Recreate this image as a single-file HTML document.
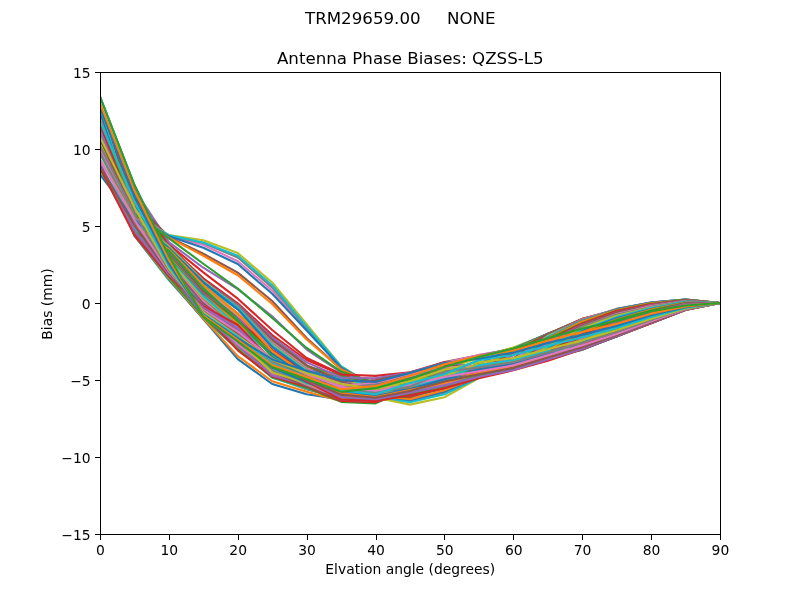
<!DOCTYPE html>
<html><head><meta charset="utf-8"><title>Antenna Phase Biases: QZSS-L5</title>
<style>
html,body{margin:0;padding:0;background:#fff;overflow:hidden}
svg{display:block}
text{font-family:'DejaVu Sans','Liberation Sans',sans-serif;fill:#000;white-space:pre}
.t10{font-size:13.889px}
.t12{font-size:16.667px}
.ln{fill:none;stroke-width:2.083;stroke-linejoin:round;stroke-linecap:square}
.ax{stroke:#000;stroke-width:1;fill:none;shape-rendering:crispEdges}
</style>
</head><body>
<svg width="800" height="600" viewBox="0 0 800 600">
<rect x="0" y="0" width="800" height="600" fill="#fff"/>
<defs><clipPath id="c"><rect x="100" y="72" width="620" height="462"/></clipPath></defs>
<g clip-path="url(#c)">
<polyline class="ln" stroke="#1f77b4" points="100.00,96.64 134.44,185.04 168.89,256.03 203.33,316.86 237.78,341.50 272.22,367.29 306.67,379.30 341.11,391.70 375.56,388.16 410.00,378.77 444.44,367.06 478.89,356.90 513.33,348.43 547.78,338.27 582.22,328.41 616.67,321.02 651.11,311.16 685.56,305.46 720.00,303.00"/>
<polyline class="ln" stroke="#ff7f0e" points="100.00,105.35 134.44,190.91 168.89,259.49 203.33,315.43 237.78,342.10 272.22,374.00 306.67,387.65 341.11,392.16 375.56,387.61 410.00,378.13 444.44,366.19 478.89,356.42 513.33,347.72 547.78,338.71 582.22,328.59 616.67,321.21 651.11,311.84 685.56,305.56 720.00,303.00"/>
<polyline class="ln" stroke="#2ca02c" points="100.00,107.91 134.44,194.03 168.89,264.25 203.33,316.51 237.78,343.60 272.22,375.38 306.67,387.73 341.11,393.75 375.56,386.27 410.00,376.53 444.44,366.42 478.89,356.52 513.33,348.37 547.78,337.35 582.22,327.45 616.67,320.13 651.11,310.42 685.56,305.46 720.00,303.00"/>
<polyline class="ln" stroke="#d62728" points="100.00,116.66 134.44,198.28 168.89,267.80 203.33,316.24 237.78,342.63 272.22,374.31 306.67,386.08 341.11,394.64 375.56,383.22 410.00,375.35 444.44,364.67 478.89,355.70 513.33,349.05 547.78,337.62 582.22,327.00 616.67,320.07 651.11,309.99 685.56,304.99 720.00,303.00"/>
<polyline class="ln" stroke="#9467bd" points="100.00,119.06 134.44,206.19 168.89,270.47 203.33,316.04 237.78,346.40 272.22,374.44 306.67,387.14 341.11,395.58 375.56,380.80 410.00,373.61 444.44,363.01 478.89,355.81 513.33,350.37 547.78,336.87 582.22,326.97 616.67,319.46 651.11,310.37 685.56,304.70 720.00,303.00"/>
<polyline class="ln" stroke="#8c564b" points="100.00,124.05 134.44,213.87 168.89,272.20 203.33,318.04 237.78,343.45 272.22,374.35 306.67,388.78 341.11,395.95 375.56,378.76 410.00,373.22 444.44,361.98 478.89,355.28 513.33,349.31 547.78,335.35 582.22,325.69 616.67,318.55 651.11,309.57 685.56,304.46 720.00,303.00"/>
<polyline class="ln" stroke="#e377c2" points="100.00,127.44 134.44,222.92 168.89,274.36 203.33,317.36 237.78,347.53 272.22,374.44 306.67,388.48 341.11,396.48 375.56,378.46 410.00,375.02 444.44,362.74 478.89,354.90 513.33,348.93 547.78,334.79 582.22,325.18 616.67,317.59 651.11,308.91 685.56,303.67 720.00,303.00"/>
<polyline class="ln" stroke="#7f7f7f" points="100.00,130.33 134.44,232.16 168.89,278.36 203.33,318.55 237.78,346.56 272.22,377.06 306.67,389.42 341.11,398.14 375.56,383.41 410.00,375.87 444.44,364.61 478.89,355.89 513.33,348.48 547.78,334.13 582.22,323.94 616.67,315.86 651.11,307.99 685.56,303.62 720.00,303.00"/>
<polyline class="ln" stroke="#bcbd22" points="100.00,133.55 134.44,235.55 168.89,280.36 203.33,317.77 237.78,349.13 272.22,377.13 306.67,388.41 341.11,397.81 375.56,388.96 410.00,378.81 444.44,369.15 478.89,358.05 513.33,347.52 547.78,333.97 582.22,323.54 616.67,314.47 651.11,307.72 685.56,302.93 720.00,303.00"/>
<polyline class="ln" stroke="#17becf" points="100.00,134.41 134.44,235.86 168.89,279.90 203.33,318.40 237.78,349.20 272.22,377.69 306.67,388.47 341.11,398.62 375.56,393.09 410.00,381.01 444.44,372.57 478.89,360.51 513.33,348.74 547.78,333.80 582.22,322.34 616.67,314.23 651.11,306.54 685.56,302.36 720.00,303.00"/>
<polyline class="ln" stroke="#1f77b4" points="100.00,135.14 134.44,235.24 168.89,278.98 203.33,319.02 237.78,359.06 272.22,384.00 306.67,394.32 341.11,399.37 375.56,398.48 410.00,385.30 444.44,376.81 478.89,363.53 513.33,349.04 547.78,333.68 582.22,320.68 616.67,312.19 651.11,305.51 685.56,301.96 720.00,303.00"/>
<polyline class="ln" stroke="#ff7f0e" points="100.00,137.24 134.44,234.93 168.89,278.05 203.33,318.40 237.78,356.13 272.22,381.23 306.67,391.70 341.11,400.94 375.56,400.93 410.00,386.74 444.44,379.26 478.89,367.15 513.33,349.99 547.78,334.31 582.22,319.56 616.67,311.74 651.11,304.62 685.56,301.85 720.00,303.00"/>
<polyline class="ln" stroke="#2ca02c" points="100.00,136.87 134.44,234.32 168.89,277.13 203.33,316.86 237.78,349.20 272.22,377.23 306.67,387.70 341.11,401.87 375.56,403.41 410.00,387.70 444.44,380.00 478.89,370.35 513.33,351.41 547.78,334.11 582.22,319.28 616.67,310.52 651.11,304.16 685.56,300.67 720.00,303.00"/>
<polyline class="ln" stroke="#d62728" points="100.00,135.47 134.44,231.15 168.89,274.48 203.33,313.80 237.78,350.33 272.22,376.50 306.67,386.78 341.11,400.94 375.56,402.33 410.00,390.79 444.44,383.10 478.89,370.38 513.33,352.87 547.78,334.19 582.22,318.83 616.67,310.11 651.11,303.66 685.56,300.48 720.00,303.00"/>
<polyline class="ln" stroke="#9467bd" points="100.00,143.31 134.44,230.62 168.89,272.20 203.33,315.69 237.78,345.23 272.22,375.48 306.67,385.02 341.11,399.75 375.56,400.79 410.00,393.04 444.44,384.83 478.89,372.30 513.33,355.31 547.78,334.63 582.22,319.32 616.67,309.48 651.11,303.28 685.56,300.29 720.00,303.00"/>
<polyline class="ln" stroke="#8c564b" points="100.00,137.79 134.44,230.01 168.89,271.25 203.33,312.93 237.78,343.60 272.22,371.15 306.67,386.47 341.11,399.56 375.56,401.08 410.00,396.47 444.44,389.09 478.89,373.60 513.33,358.28 547.78,333.94 582.22,318.96 616.67,309.52 651.11,303.44 685.56,299.95 720.00,303.00"/>
<polyline class="ln" stroke="#e377c2" points="100.00,145.03 134.44,230.73 168.89,270.33 203.33,311.63 237.78,344.26 272.22,370.10 306.67,384.64 341.11,398.02 375.56,399.97 410.00,398.48 444.44,390.78 478.89,376.28 513.33,360.08 547.78,335.86 582.22,319.56 616.67,309.01 651.11,302.29 685.56,299.59 720.00,303.00"/>
<polyline class="ln" stroke="#7f7f7f" points="100.00,143.14 134.44,229.65 168.89,271.77 203.33,311.18 237.78,341.17 272.22,370.41 306.67,383.50 341.11,396.84 375.56,399.01 410.00,401.38 444.44,392.80 478.89,376.95 513.33,363.55 547.78,335.65 582.22,320.03 616.67,308.90 651.11,302.85 685.56,299.49 720.00,303.00"/>
<polyline class="ln" stroke="#bcbd22" points="100.00,144.65 134.44,225.20 168.89,266.95 203.33,311.26 237.78,340.39 272.22,372.38 306.67,383.17 341.11,396.58 375.56,397.36 410.00,404.64 444.44,397.25 478.89,378.15 513.33,364.74 547.78,336.05 582.22,321.10 616.67,309.65 651.11,303.03 685.56,299.46 720.00,303.00"/>
<polyline class="ln" stroke="#17becf" points="100.00,144.84 134.44,227.36 168.89,267.65 203.33,308.14 237.78,339.57 272.22,367.28 306.67,383.11 341.11,394.78 375.56,395.96 410.00,402.33 444.44,394.32 478.89,377.69 513.33,367.29 547.78,336.64 582.22,320.89 616.67,309.37 651.11,302.64 685.56,299.65 720.00,303.00"/>
<polyline class="ln" stroke="#1f77b4" points="100.00,149.00 134.44,225.11 168.89,268.46 203.33,307.11 237.78,339.29 272.22,367.70 306.67,382.23 341.11,394.54 375.56,395.40 410.00,400.02 444.44,391.55 478.89,377.35 513.33,369.28 547.78,337.88 582.22,321.23 616.67,309.39 651.11,302.57 685.56,299.44 720.00,303.00"/>
<polyline class="ln" stroke="#ff7f0e" points="100.00,151.09 134.44,224.45 168.89,264.62 203.33,304.64 237.78,337.44 272.22,364.87 306.67,380.60 341.11,392.75 375.56,395.16 410.00,399.20 444.44,390.24 478.89,376.93 513.33,369.22 547.78,338.19 582.22,321.46 616.67,309.98 651.11,303.11 685.56,299.72 720.00,303.00"/>
<polyline class="ln" stroke="#2ca02c" points="100.00,150.33 134.44,223.64 168.89,263.18 203.33,304.83 237.78,337.09 272.22,364.05 306.67,381.06 341.11,393.94 375.56,395.55 410.00,397.12 444.44,387.05 478.89,376.53 513.33,369.22 547.78,339.00 582.22,323.26 616.67,310.81 651.11,303.84 685.56,299.77 720.00,303.00"/>
<polyline class="ln" stroke="#d62728" points="100.00,150.57 134.44,221.52 168.89,262.18 203.33,301.62 237.78,334.04 272.22,360.42 306.67,379.28 341.11,392.97 375.56,394.20 410.00,396.77 444.44,386.03 478.89,375.89 513.33,368.60 547.78,340.46 582.22,323.72 616.67,311.04 651.11,304.17 685.56,300.05 720.00,303.00"/>
<polyline class="ln" stroke="#9467bd" points="100.00,150.99 134.44,222.74 168.89,263.16 203.33,303.96 237.78,332.86 272.22,359.08 306.67,379.78 341.11,391.24 375.56,394.81 410.00,395.40 444.44,384.62 478.89,375.38 513.33,369.28 547.78,341.67 582.22,324.90 616.67,312.42 651.11,305.02 685.56,300.35 720.00,303.00"/>
<polyline class="ln" stroke="#8c564b" points="100.00,149.44 134.44,220.49 168.89,261.80 203.33,302.64 237.78,330.92 272.22,360.74 306.67,377.68 341.11,390.02 375.56,393.01 410.00,395.40 444.44,385.52 478.89,374.88 513.33,368.18 547.78,343.50 582.22,325.47 616.67,312.45 651.11,305.63 685.56,300.20 720.00,303.00"/>
<polyline class="ln" stroke="#e377c2" points="100.00,152.84 134.44,218.54 168.89,260.33 203.33,300.68 237.78,328.49 272.22,360.51 306.67,376.24 341.11,389.99 375.56,392.56 410.00,394.79 444.44,383.50 478.89,374.74 513.33,368.83 547.78,343.63 582.22,326.74 616.67,314.03 651.11,305.98 685.56,300.92 720.00,303.00"/>
<polyline class="ln" stroke="#7f7f7f" points="100.00,149.40 134.44,219.54 168.89,258.46 203.33,298.30 237.78,329.13 272.22,359.10 306.67,377.45 341.11,388.44 375.56,391.95 410.00,394.05 444.44,382.14 478.89,375.67 513.33,368.74 547.78,345.14 582.22,326.71 616.67,314.53 651.11,306.90 685.56,301.00 720.00,303.00"/>
<polyline class="ln" stroke="#bcbd22" points="100.00,149.73 134.44,219.00 168.89,259.59 203.33,297.43 237.78,326.17 272.22,353.99 306.67,374.59 341.11,388.17 375.56,391.47 410.00,392.29 444.44,381.62 478.89,374.25 513.33,367.68 547.78,346.31 582.22,328.28 616.67,315.73 651.11,307.63 685.56,301.69 720.00,303.00"/>
<polyline class="ln" stroke="#17becf" points="100.00,153.70 134.44,219.95 168.89,257.05 203.33,296.15 237.78,325.66 272.22,355.32 306.67,376.70 341.11,387.41 375.56,389.22 410.00,392.14 444.44,379.91 478.89,373.67 513.33,367.68 547.78,347.81 582.22,329.76 616.67,317.12 651.11,307.90 685.56,301.61 720.00,303.00"/>
<polyline class="ln" stroke="#1f77b4" points="100.00,152.08 134.44,216.76 168.89,255.73 203.33,293.70 237.78,323.06 272.22,353.74 306.67,375.62 341.11,385.81 375.56,389.38 410.00,389.92 444.44,378.43 478.89,373.33 513.33,367.68 547.78,349.34 582.22,331.09 616.67,318.22 651.11,309.01 685.56,302.24 720.00,303.00"/>
<polyline class="ln" stroke="#ff7f0e" points="100.00,144.42 134.44,215.16 168.89,255.30 203.33,292.85 237.78,323.85 272.22,350.85 306.67,375.00 341.11,384.07 375.56,388.08 410.00,387.46 444.44,377.49 478.89,372.13 513.33,367.58 547.78,350.04 582.22,332.34 616.67,319.54 651.11,309.58 685.56,302.50 720.00,303.00"/>
<polyline class="ln" stroke="#2ca02c" points="100.00,148.73 134.44,215.37 168.89,254.18 203.33,292.52 237.78,320.96 272.22,350.94 306.67,372.67 341.11,383.43 375.56,388.20 410.00,385.93 444.44,374.88 478.89,371.57 513.33,367.64 547.78,351.37 582.22,334.07 616.67,320.01 651.11,310.40 685.56,302.95 720.00,303.00"/>
<polyline class="ln" stroke="#d62728" points="100.00,147.18 134.44,214.14 168.89,252.55 203.33,291.95 237.78,319.17 272.22,349.76 306.67,372.84 341.11,383.74 375.56,386.98 410.00,385.25 444.44,374.80 478.89,372.14 513.33,368.11 547.78,352.16 582.22,334.38 616.67,321.72 651.11,311.73 685.56,303.57 720.00,303.00"/>
<polyline class="ln" stroke="#9467bd" points="100.00,148.99 134.44,211.60 168.89,252.14 203.33,292.02 237.78,317.92 272.22,346.60 306.67,371.13 341.11,382.69 375.56,386.36 410.00,384.50 444.44,374.56 478.89,370.67 513.33,368.45 547.78,353.10 582.22,336.99 616.67,322.02 651.11,312.51 685.56,303.83 720.00,303.00"/>
<polyline class="ln" stroke="#8c564b" points="100.00,143.55 134.44,210.27 168.89,250.82 203.33,291.06 237.78,316.27 272.22,345.85 306.67,370.74 341.11,381.04 375.56,387.70 410.00,384.62 444.44,373.84 478.89,370.52 513.33,367.34 547.78,355.48 582.22,336.86 616.67,323.75 651.11,313.92 685.56,304.63 720.00,303.00"/>
<polyline class="ln" stroke="#e377c2" points="100.00,142.48 134.44,209.12 168.89,250.14 203.33,287.95 237.78,315.39 272.22,347.26 306.67,370.08 341.11,380.05 375.56,387.81 410.00,385.66 444.44,374.60 478.89,369.35 513.33,368.49 547.78,355.82 582.22,339.23 616.67,324.38 651.11,314.29 685.56,305.06 720.00,303.00"/>
<polyline class="ln" stroke="#7f7f7f" points="100.00,141.50 134.44,206.54 168.89,250.22 203.33,285.75 237.78,313.72 272.22,343.45 306.67,369.60 341.11,379.77 375.56,386.49 410.00,383.85 444.44,373.93 478.89,369.68 513.33,368.40 547.78,356.18 582.22,339.94 616.67,325.62 651.11,315.44 685.56,305.32 720.00,303.00"/>
<polyline class="ln" stroke="#bcbd22" points="100.00,142.26 134.44,204.52 168.89,248.78 203.33,285.72 237.78,314.44 272.22,341.09 306.67,369.76 341.11,379.22 375.56,386.17 410.00,384.22 444.44,373.86 478.89,369.99 513.33,368.58 547.78,356.94 582.22,340.97 616.67,326.73 651.11,315.95 685.56,305.81 720.00,303.00"/>
<polyline class="ln" stroke="#17becf" points="100.00,134.53 134.44,204.97 168.89,250.24 203.33,285.44 237.78,309.36 272.22,342.39 306.67,368.63 341.11,377.78 375.56,386.49 410.00,382.18 444.44,371.79 478.89,369.66 513.33,368.17 547.78,358.34 582.22,342.69 616.67,327.86 651.11,316.61 685.56,306.36 720.00,303.00"/>
<polyline class="ln" stroke="#1f77b4" points="100.00,139.40 134.44,204.98 168.89,248.34 203.33,282.27 237.78,308.81 272.22,338.85 306.67,368.57 341.11,377.06 375.56,384.92 410.00,382.92 444.44,372.81 478.89,369.22 513.33,368.51 547.78,358.42 582.22,342.98 616.67,328.86 651.11,317.44 685.56,306.71 720.00,303.00"/>
<polyline class="ln" stroke="#ff7f0e" points="100.00,135.59 134.44,203.14 168.89,243.71 203.33,281.60 237.78,308.27 272.22,338.48 306.67,366.95 341.11,376.43 375.56,384.44 410.00,380.91 444.44,371.21 478.89,369.52 513.33,368.80 547.78,358.65 582.22,344.70 616.67,329.90 651.11,318.17 685.56,307.15 720.00,303.00"/>
<polyline class="ln" stroke="#2ca02c" points="100.00,133.60 134.44,201.36 168.89,245.25 203.33,280.67 237.78,306.85 272.22,336.88 306.67,366.14 341.11,375.38 375.56,384.62 410.00,379.89 444.44,371.83 478.89,370.03 513.33,368.40 547.78,359.67 582.22,345.26 616.67,330.28 651.11,319.17 685.56,307.52 720.00,303.00"/>
<polyline class="ln" stroke="#d62728" points="100.00,125.90 134.44,196.74 168.89,244.48 203.33,272.35 237.78,298.69 272.22,329.95 306.67,357.98 341.11,373.84 375.56,383.08 410.00,378.90 444.44,369.80 478.89,369.90 513.33,368.60 547.78,359.69 582.22,345.54 616.67,331.65 651.11,319.38 685.56,307.87 720.00,303.00"/>
<polyline class="ln" stroke="#9467bd" points="100.00,117.53 134.44,189.35 168.89,242.17 203.33,267.73 237.78,289.14 272.22,316.24 306.67,349.51 341.11,372.30 375.56,384.62 410.00,378.16 444.44,369.77 478.89,368.88 513.33,369.51 547.78,359.08 582.22,347.23 616.67,332.85 651.11,320.47 685.56,307.96 720.00,303.00"/>
<polyline class="ln" stroke="#8c564b" points="100.00,112.04 134.44,201.36 168.89,237.09 203.33,253.72 237.78,272.66 272.22,301.00 306.67,337.96 341.11,369.22 375.56,386.16 410.00,377.14 444.44,370.49 478.89,368.97 513.33,369.22 547.78,359.98 582.22,347.54 616.67,333.01 651.11,320.29 685.56,308.59 720.00,303.00"/>
<polyline class="ln" stroke="#e377c2" points="100.00,114.16 134.44,210.60 168.89,236.32 203.33,244.94 237.78,261.27 272.22,290.68 306.67,329.18 341.11,367.68 375.56,386.93 410.00,376.11 444.44,368.55 478.89,369.07 513.33,368.86 547.78,359.31 582.22,347.37 616.67,334.15 651.11,321.54 685.56,308.51 720.00,303.00"/>
<polyline class="ln" stroke="#7f7f7f" points="100.00,109.82 134.44,213.68 168.89,235.55 203.33,242.94 237.78,257.57 272.22,287.60 306.67,327.64 341.11,366.91 375.56,387.70 410.00,374.88 444.44,367.79 478.89,367.95 513.33,368.22 547.78,359.98 582.22,348.10 616.67,334.25 651.11,321.66 685.56,308.86 720.00,303.00"/>
<polyline class="ln" stroke="#bcbd22" points="100.00,108.96 134.44,216.76 168.89,234.93 203.33,240.17 237.78,253.10 272.22,282.52 306.67,324.25 341.11,366.14 375.56,387.70 410.00,373.53 444.44,367.80 478.89,368.16 513.33,368.32 547.78,359.69 582.22,348.90 616.67,334.82 651.11,322.78 685.56,309.05 720.00,303.00"/>
<polyline class="ln" stroke="#17becf" points="100.00,108.25 134.44,216.76 168.89,235.24 203.33,242.48 237.78,255.72 272.22,285.29 306.67,326.56 341.11,366.45 375.56,387.70 410.00,373.54 444.44,367.55 478.89,368.23 513.33,368.25 547.78,359.95 582.22,347.91 616.67,335.03 651.11,322.40 685.56,309.25 720.00,303.00"/>
<polyline class="ln" stroke="#1f77b4" points="100.00,113.23 134.44,215.22 168.89,236.32 203.33,247.71 237.78,264.04 272.22,293.76 306.67,330.57 341.11,367.68 375.56,386.93 410.00,373.84 444.44,367.68 478.89,368.64 513.33,366.95 547.78,359.39 582.22,348.43 616.67,335.17 651.11,322.70 685.56,309.60 720.00,303.00"/>
<polyline class="ln" stroke="#ff7f0e" points="100.00,118.24 134.44,214.45 168.89,237.55 203.33,255.72 237.78,275.28 272.22,303.92 306.67,339.50 341.11,369.22 375.56,384.62 410.00,372.58 444.44,366.24 478.89,368.12 513.33,366.59 547.78,359.59 582.22,348.03 616.67,336.44 651.11,322.22 685.56,309.51 720.00,303.00"/>
<polyline class="ln" stroke="#2ca02c" points="100.00,120.76 134.44,213.68 168.89,238.32 203.33,263.73 237.78,288.52 272.22,317.94 306.67,347.97 341.11,371.53 375.56,383.08 410.00,372.60 444.44,363.13 478.89,368.06 513.33,365.93 547.78,358.37 582.22,349.68 616.67,335.65 651.11,322.71 685.56,309.47 720.00,303.00"/>
<polyline class="ln" stroke="#d62728" points="100.00,124.36 134.44,215.22 168.89,246.02 203.33,278.36 237.78,303.31 272.22,335.03 306.67,359.98 341.11,374.46 375.56,375.84 410.00,372.30 444.44,362.29 478.89,367.87 513.33,365.33 547.78,359.31 582.22,348.07 616.67,335.88 651.11,322.72 685.56,309.52 720.00,303.00"/>
<polyline class="ln" stroke="#9467bd" points="100.00,130.33 134.44,215.86 168.89,246.33 203.33,280.67 237.78,304.85 272.22,337.56 306.67,362.37 341.11,377.54 375.56,378.31 410.00,372.61 444.44,363.06 478.89,366.70 513.33,365.13 547.78,358.75 582.22,349.61 616.67,335.46 651.11,323.10 685.56,309.26 720.00,303.00"/>
<polyline class="ln" stroke="#8c564b" points="100.00,138.09 134.44,215.71 168.89,247.01 203.33,281.74 237.78,305.13 272.22,339.95 306.67,365.18 341.11,381.54 375.56,380.31 410.00,373.07 444.44,364.60 478.89,367.68 513.33,364.62 547.78,358.82 582.22,348.33 616.67,336.37 651.11,322.57 685.56,310.09 720.00,303.00"/>
<polyline class="ln" stroke="#e377c2" points="100.00,148.09 134.44,215.95 168.89,246.53 203.33,282.52 237.78,306.58 272.22,342.66 306.67,368.40 341.11,386.16 375.56,383.08 410.00,373.84 444.44,367.68 478.89,365.49 513.33,364.60 547.78,358.44 582.22,349.27 616.67,335.52 651.11,323.09 685.56,309.77 720.00,303.00"/>
<polyline class="ln" stroke="#7f7f7f" points="100.00,152.90 134.44,217.67 168.89,245.61 203.33,282.62 237.78,305.49 272.22,343.79 306.67,369.55 341.11,387.70 375.56,384.62 410.00,378.46 444.44,372.30 478.89,365.99 513.33,363.28 547.78,355.38 582.22,349.87 616.67,335.93 651.11,323.17 685.56,309.73 720.00,303.00"/>
<polyline class="ln" stroke="#bcbd22" points="100.00,159.39 134.44,218.83 168.89,246.59 203.33,280.90 237.78,307.90 272.22,344.66 306.67,370.36 341.11,387.96 375.56,387.70 410.00,381.54 444.44,375.38 478.89,364.29 513.33,361.68 547.78,353.67 582.22,348.89 616.67,336.11 651.11,323.02 685.56,309.78 720.00,303.00"/>
<polyline class="ln" stroke="#17becf" points="100.00,165.94 134.44,219.83 168.89,247.56 203.33,281.75 237.78,307.62 272.22,345.52 306.67,371.16 341.11,389.44 375.56,392.32 410.00,386.16 444.44,378.46 478.89,365.37 513.33,359.98 547.78,350.74 582.22,349.49 616.67,336.44 651.11,323.02 685.56,309.84 720.00,303.00"/>
<polyline class="ln" stroke="#1f77b4" points="100.00,174.41 134.44,219.84 168.89,248.33 203.33,282.36 237.78,309.31 272.22,347.09 306.67,372.19 341.11,390.78 375.56,396.02 410.00,388.93 444.44,379.23 478.89,369.53 513.33,363.83 547.78,353.82 582.22,349.37 616.67,336.58 651.11,323.09 685.56,310.07 720.00,303.00"/>
<polyline class="ln" stroke="#ff7f0e" points="100.00,169.79 134.44,225.50 168.89,249.41 203.33,285.29 237.78,313.32 272.22,351.12 306.67,375.08 341.11,393.23 375.56,396.94 410.00,390.01 444.44,383.08 478.89,373.07 513.33,366.60 547.78,356.86 582.22,349.07 616.67,335.90 651.11,322.59 685.56,309.88 720.00,303.00"/>
<polyline class="ln" stroke="#2ca02c" points="100.00,169.02 134.44,232.16 168.89,250.64 203.33,288.37 237.78,319.94 272.22,356.76 306.67,378.49 341.11,396.94 375.56,400.02 410.00,393.86 444.44,386.93 478.89,375.38 513.33,369.22 547.78,360.29 582.22,348.89 616.67,336.11 651.11,323.02 685.56,309.78 720.00,303.00"/>
<polyline class="ln" stroke="#d62728" points="100.00,167.48 134.44,235.24 168.89,276.20 203.33,306.08 237.78,325.02 272.22,361.22 306.67,381.27 341.11,399.56 375.56,400.94 410.00,395.25 444.44,388.16 478.89,378.15 513.33,370.30 547.78,360.75 582.22,349.20 616.67,336.26 651.11,323.17 685.56,309.78 720.00,303.00"/>
<polyline class="ln" stroke="#9467bd" points="100.00,162.86 134.44,230.62 168.89,274.51 203.33,307.62 237.78,328.26 272.22,361.86 306.67,380.16 341.11,396.94 375.56,399.25 410.00,392.63 444.44,385.39 478.89,376.77 513.33,369.99 547.78,359.52 582.22,348.89 616.67,335.96 651.11,322.87 685.56,309.62 720.00,303.00"/>
<polyline class="ln" stroke="#8c564b" points="100.00,165.94 134.44,225.23 168.89,272.97 203.33,309.16 237.78,333.80 272.22,364.07 306.67,379.72 341.11,394.63 375.56,397.71 410.00,390.93 444.44,381.39 478.89,374.15 513.33,367.83 547.78,357.52 582.22,347.35 616.67,335.19 651.11,322.25 685.56,309.47 720.00,303.00"/>
<polyline class="ln" stroke="#e377c2" points="100.00,159.78 134.44,219.84 168.89,271.43 203.33,309.93 237.78,331.64 272.22,358.80 306.67,374.09 341.11,386.93 375.56,390.93 410.00,385.08 444.44,376.92 478.89,371.22 513.33,365.37 547.78,355.36 582.22,345.20 616.67,333.95 651.11,321.33 685.56,309.16 720.00,303.00"/>
<polyline class="ln" stroke="#7f7f7f" points="100.00,145.92 134.44,213.68 168.89,269.89 203.33,311.47 237.78,335.34 272.22,362.57 306.67,376.81 341.11,389.86 375.56,392.94 410.00,386.62 444.44,371.84 478.89,367.53 513.33,362.14 547.78,352.43 582.22,342.73 616.67,331.95 651.11,319.94 685.56,308.85 720.00,303.00"/>
<polyline class="ln" stroke="#bcbd22" points="100.00,136.68 134.44,207.52 168.89,268.35 203.33,312.24 237.78,336.11 272.22,359.96 306.67,372.92 341.11,383.85 375.56,389.24 410.00,381.08 444.44,369.84 478.89,362.29 513.33,358.13 547.78,349.20 582.22,340.27 616.67,329.95 651.11,318.71 685.56,308.39 720.00,303.00"/>
<polyline class="ln" stroke="#17becf" points="100.00,121.28 134.44,201.36 168.89,266.04 203.33,313.78 237.78,336.73 272.22,363.73 306.67,377.51 341.11,390.47 375.56,394.32 410.00,382.93 444.44,374.30 478.89,359.98 513.33,355.05 547.78,345.81 582.22,337.19 616.67,327.95 651.11,317.01 685.56,307.77 720.00,303.00"/>
<polyline class="ln" stroke="#1f77b4" points="100.00,107.42 134.44,195.97 168.89,263.73 203.33,314.55 237.78,338.42 272.22,359.40 306.67,370.79 341.11,380.00 375.56,382.00 410.00,373.07 444.44,363.06 478.89,358.75 513.33,352.43 547.78,342.89 582.22,334.72 616.67,325.95 651.11,315.32 685.56,307.16 720.00,303.00"/>
<polyline class="ln" stroke="#ff7f0e" points="100.00,102.80 134.44,190.58 168.89,259.88 203.33,315.32 237.78,339.96 272.22,365.08 306.67,377.33 341.11,389.24 375.56,386.16 410.00,375.84 444.44,364.14 478.89,356.13 513.33,350.43 547.78,340.42 582.22,331.95 616.67,323.64 651.11,313.63 685.56,306.39 720.00,303.00"/>
<polyline class="ln" stroke="#2ca02c" points="100.00,96.64 134.44,185.04 168.89,256.03 203.33,316.86 237.78,341.50 272.22,367.29 306.67,379.30 341.11,391.70 375.56,388.16 410.00,378.77 444.44,367.06 478.89,356.90 513.33,348.43 547.78,338.27 582.22,328.41 616.67,321.02 651.11,311.16 685.56,305.46 720.00,303.00"/>
</g>
<g class="ax">
<line x1="100.5" y1="534.5" x2="100.5" y2="539.5"/>
<line x1="169.5" y1="534.5" x2="169.5" y2="539.5"/>
<line x1="238.5" y1="534.5" x2="238.5" y2="539.5"/>
<line x1="307.5" y1="534.5" x2="307.5" y2="539.5"/>
<line x1="376.5" y1="534.5" x2="376.5" y2="539.5"/>
<line x1="444.5" y1="534.5" x2="444.5" y2="539.5"/>
<line x1="513.5" y1="534.5" x2="513.5" y2="539.5"/>
<line x1="582.5" y1="534.5" x2="582.5" y2="539.5"/>
<line x1="651.5" y1="534.5" x2="651.5" y2="539.5"/>
<line x1="720.5" y1="534.5" x2="720.5" y2="539.5"/>
<line x1="95" y1="534.5" x2="100.5" y2="534.5"/>
<line x1="95" y1="457.5" x2="100.5" y2="457.5"/>
<line x1="95" y1="380.5" x2="100.5" y2="380.5"/>
<line x1="95" y1="303.5" x2="100.5" y2="303.5"/>
<line x1="95" y1="226.5" x2="100.5" y2="226.5"/>
<line x1="95" y1="149.5" x2="100.5" y2="149.5"/>
<line x1="95" y1="72.5" x2="100.5" y2="72.5"/>
<rect x="100.5" y="72.5" width="620" height="462"/>
</g>
<text class="t10" text-anchor="middle" x="100.40" y="555.00">0</text>
<text class="t10" text-anchor="middle" x="169.29" y="555.00">10</text>
<text class="t10" text-anchor="middle" x="238.18" y="555.00">20</text>
<text class="t10" text-anchor="middle" x="307.07" y="555.00">30</text>
<text class="t10" text-anchor="middle" x="375.96" y="555.00">40</text>
<text class="t10" text-anchor="middle" x="444.84" y="555.00">50</text>
<text class="t10" text-anchor="middle" x="513.73" y="555.00">60</text>
<text class="t10" text-anchor="middle" x="582.62" y="555.00">70</text>
<text class="t10" text-anchor="middle" x="651.51" y="555.00">80</text>
<text class="t10" text-anchor="middle" x="720.40" y="555.00">90</text>
<text class="t10" text-anchor="end" x="90.6" y="539.50">−15</text>
<text class="t10" text-anchor="end" x="90.6" y="462.50">−10</text>
<text class="t10" text-anchor="end" x="90.6" y="385.50">−5</text>
<text class="t10" text-anchor="end" x="90.6" y="308.50">0</text>
<text class="t10" text-anchor="end" x="90.6" y="231.50">5</text>
<text class="t10" text-anchor="end" x="90.6" y="154.50">10</text>
<text class="t10" text-anchor="end" x="90.6" y="77.50">15</text>
<text class="t10" text-anchor="middle" x="410.3" y="574.0">Elvation angle (degrees)</text>
<text class="t10" text-anchor="middle" transform="translate(52.0,304.0) rotate(-90)">Bias (mm)</text>
<text class="t12" text-anchor="middle" x="410.3" y="64.3">Antenna Phase Biases: QZSS-L5</text>
<text class="t12" text-anchor="middle" x="400.3" y="24.4">TRM29659.00     NONE</text>
</svg>
</body></html>
